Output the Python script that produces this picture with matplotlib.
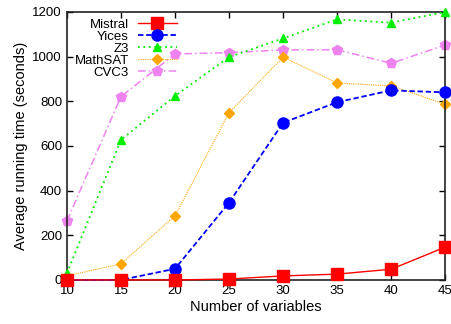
import matplotlib
matplotlib.use("Agg")
import matplotlib.pyplot as plt

plt.rcParams['font.family'] = ['Liberation Sans', 'DejaVu Sans']

variables = [10, 15, 20, 25, 30, 35, 40, 45]
mistral = [0, 0, 0, 4, 18, 26, 48, 147]
yices = [0, 0, 50, 346, 704, 796, 849, 840]
z3 = [30, 627, 824, 998, 1082, 1167, 1152, 1200]
mathsat = [18, 72, 287, 749, 998, 882, 869, 787]
cvc3 = [264, 821, 1012, 1018, 1030, 1031, 970, 1052]

fig = plt.figure(figsize=(4.52, 3.24), dpi=100)
ax = fig.add_axes([0.148, 0.136, 0.837, 0.827])

ax.plot(variables, mistral, color='#ff0000', ls='-', lw=1, marker='s', ms=8, label='Mistral', clip_on=False, zorder=5)
ax.plot(variables, yices, color='#0000ff', ls=(0, (3, 1.5)), lw=1.3, marker='o', ms=8, label='Yices', clip_on=False, zorder=4)
ax.plot(variables, z3, color='#00ee00', ls=(0, (1, 2)), lw=1.3, marker='^', ms=6, label='Z3', clip_on=False, zorder=3)
ax.plot(variables, mathsat, color='#ffa500', ls=(0, (1, 1)), lw=0.8, marker='D', ms=5, label='MathSAT', clip_on=False, zorder=2)
ax.plot(variables, cvc3, color='#ee82ee', ls=(0, (5, 2, 1, 2)), lw=1.1, marker='p', ms=7.5, label='CVC3', clip_on=False, zorder=1)

ax.set_xlim(10, 45)
ax.set_ylim(0, 1200)
ax.set_xticks(variables)
ax.set_yticks([0, 200, 400, 600, 800, 1000, 1200])
ax.tick_params(direction='in', top=True, right=True, labelsize=9.5, length=4, width=1)
ax.set_xlabel('Number of variables', fontsize=10.5, labelpad=2)
ax.set_ylabel('Average running time (seconds)', fontsize=10.5, labelpad=3)
for s in ax.spines.values():
    s.set_linewidth(1.2)
    s.set_color('#222222')

leg = ax.legend(loc='upper left', bbox_to_anchor=(0.0, 1.005), markerfirst=False,
                frameon=False, fontsize=9.5, handlelength=2.9, labelspacing=0.0,
                handleheight=0.5, handletextpad=0.7, borderaxespad=0.2)

fig.savefig('out.png', dpi=100)
